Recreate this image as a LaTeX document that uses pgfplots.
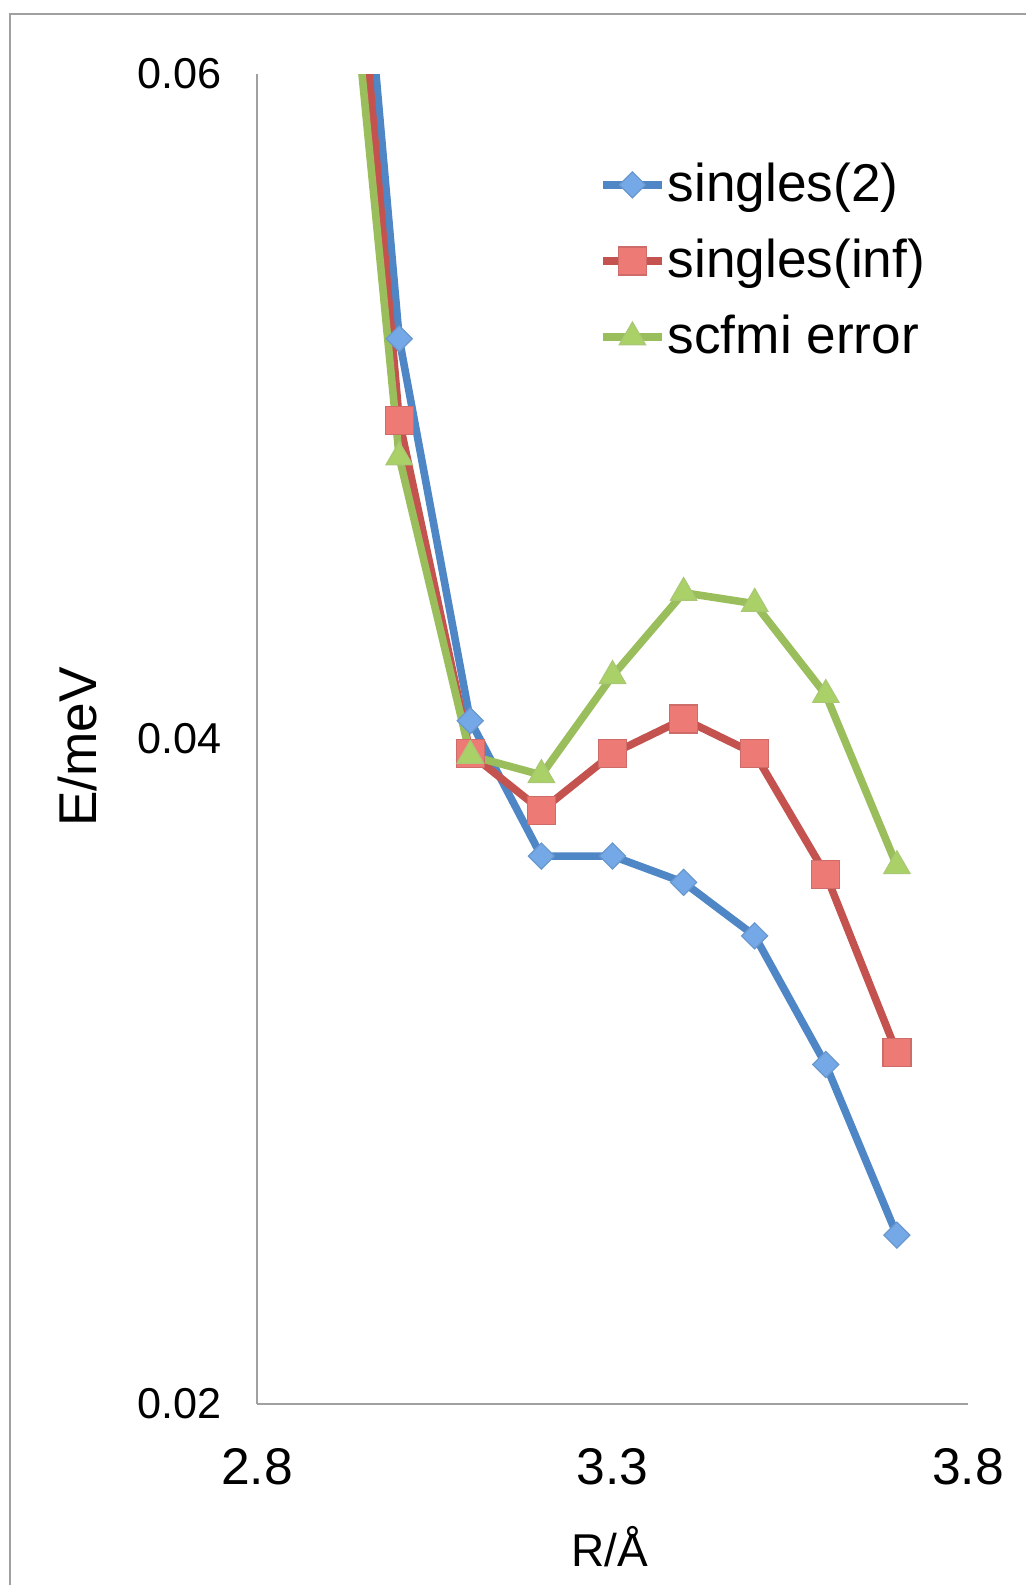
\documentclass[border=0pt]{standalone}
\usepackage{fontspec}
\setmainfont{Liberation Sans}
\usepackage{pgfplots}
\pgfplotsset{compat=1.18}
\definecolor{axgray}{HTML}{A0A0A0}
\definecolor{cblue}{HTML}{4F86C6}
\definecolor{cbluefill}{HTML}{74A8E6}
\definecolor{cred}{HTML}{C4524E}
\definecolor{credfill}{HTML}{EE7A76}
\definecolor{cgreen}{HTML}{9BBE5C}
\definecolor{cgreenfill}{HTML}{A9D168}
\begin{document}
\begin{tikzpicture}
\draw[axgray, line width=0.6pt] (2.5pt,-420pt) -- (2.5pt,-3.5pt) -- (280pt,-3.5pt);
\begin{axis}[
  at={(64.25pt,-351pt)}, anchor=south west,
  scale only axis, width=177.75pt, height=332.5pt,
  xmin=2.8, xmax=3.8, ymin=0.02, ymax=0.06,
  scaled ticks=false,
  xtick={2.8,3.3,3.8}, xticklabels={2.8,3.3,3.8},
  ytick={0.02,0.04,0.06}, yticklabels={0.02,0.04,0.06},
  axis x line*=bottom, axis y line*=left,
  axis line style={draw=axgray, line width=0.55pt, -},
  major tick length=0pt, tick style={draw=none},
  x tick label style={font=\fontsize{12.9}{14}\selectfont, yshift=-7.7pt},
  y tick label style={font=\fontsize{10.8}{12}\selectfont, xshift=-5.4pt},
  xlabel={R/Å}, ylabel={E/meV},
  x label style={at={(axis description cs:0.496,-0.1075)}, anchor=center, font=\fontsize{11.5}{13}\selectfont},
  y label style={at={(axis description cs:-0.253,0.494)}, anchor=center, rotate=0, font=\fontsize{13.3}{15}\selectfont},
  legend style={draw=none, fill=none, at={(0.463,0.946)}, anchor=north west,
    font=\fontsize{13.3}{15}\selectfont, row sep=3.9pt,
    /tikz/every even column/.append style={column sep=0pt},
    nodes={inner xsep=0.5pt}},
  legend cell align=left,
  legend image code/.code={
    \draw[mark repeat=2,mark phase=2,#1] plot coordinates {(0pt,0pt) (7.4pt,0pt) (14.8pt,0pt)};
  },
  every axis plot/.append style={line width=1.9pt},
]
\addplot[cblue, mark=square*, mark size=2.3pt, mark options={rotate=45, fill=cbluefill, draw=cblue!85, line width=0.3pt, solid}]
  coordinates {(2.9,0.0764) (3.0,0.05204) (3.1,0.04055) (3.2,0.03648) (3.3,0.03648) (3.4,0.03569) (3.5,0.03408) (3.6,0.03021) (3.7,0.02508)};
\addlegendentry{singles(2)}
\addplot[cred, mark=square*, mark size=3.5pt, mark options={fill=credfill, draw=cred!85, line width=0.3pt, solid}]
  coordinates {(2.9,0.0742) (3.0,0.04958) (3.1,0.03956) (3.2,0.03785) (3.3,0.03956) (3.4,0.0406) (3.5,0.03956) (3.6,0.03593) (3.7,0.03057)};
\addlegendentry{singles(inf)}
\addplot[cgreen, mark=triangle*, mark size=3.8pt, mark options={fill=cgreenfill, draw=cgreen!85, line width=0.3pt, solid}]
  coordinates {(2.9,0.0705) (3.0,0.04848) (3.1,0.0395) (3.2,0.03892) (3.3,0.0419) (3.4,0.0444) (3.5,0.04407) (3.6,0.04133) (3.7,0.03618)};
\addlegendentry{scfmi error}
\end{axis}
\pgfresetboundingbox
\useasboundingbox (0pt,0pt) rectangle (256.5pt,-396.25pt);
\end{tikzpicture}
\end{document}
